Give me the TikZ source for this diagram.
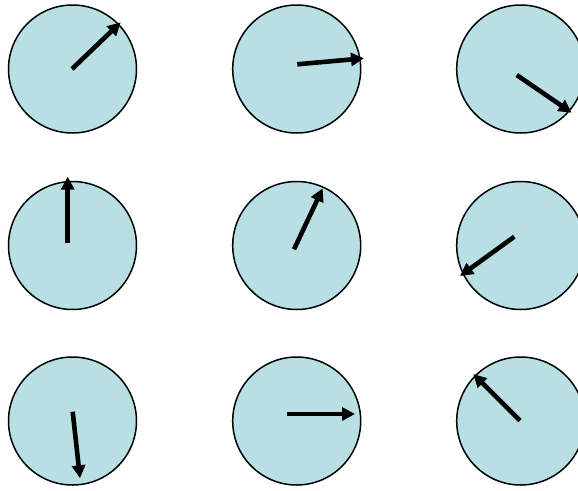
\documentclass[tikz,border=0pt]{standalone}
\usetikzlibrary{arrows.meta}
\definecolor{disc}{HTML}{B8DFE4}
\begin{document}
\begin{tikzpicture}[x=1pt,y=-1pt,
  disk/.style={circle,draw=black,line width=1.5pt,fill=disc,minimum size=128pt,inner sep=0pt},
  hand/.style={line width=4.6pt,-{Triangle[length=13pt,width=13pt]}}]
\useasboundingbox (0,0) rectangle (578,490);
\node[disk] (c1) at (72.5,69) {};
\node[disk] (c2) at (296.7,69) {};
\node[disk] (c3) at (520.7,69) {};
\node[disk] (c4) at (72.5,245.5) {};
\node[disk] (c5) at (296.7,245.5) {};
\node[disk] (c6) at (520.7,245.5) {};
\node[disk] (c7) at (72.5,421) {};
\node[disk] (c8) at (296.7,421) {};
\node[disk] (c9) at (520.7,421) {};
\coordinate (s1) at (72,69);     \coordinate (t1) at (120.7,22.3);
\coordinate (s2) at (297.3,64.3); \coordinate (t2) at (364,58.3);
\coordinate (s3) at (516.7,75);  \coordinate (t3) at (571.7,112.7);
\coordinate (s4) at (67.7,243.3); \coordinate (t4) at (67.7,176.7);
\coordinate (s5) at (294,249.3); \coordinate (t5) at (322.7,188.3);
\coordinate (s6) at (514.3,236.7); \coordinate (t6) at (460,276);
\coordinate (s7) at (72.7,411.7); \coordinate (t7) at (80,478.3);
\coordinate (s8) at (286.7,414); \coordinate (t8) at (355,414);
\coordinate (s9) at (520,420.7); \coordinate (t9) at (473.3,374);
\foreach \i in {1,...,9} \draw[hand] (s\i) -- (t\i);
\end{tikzpicture}
\end{document}
